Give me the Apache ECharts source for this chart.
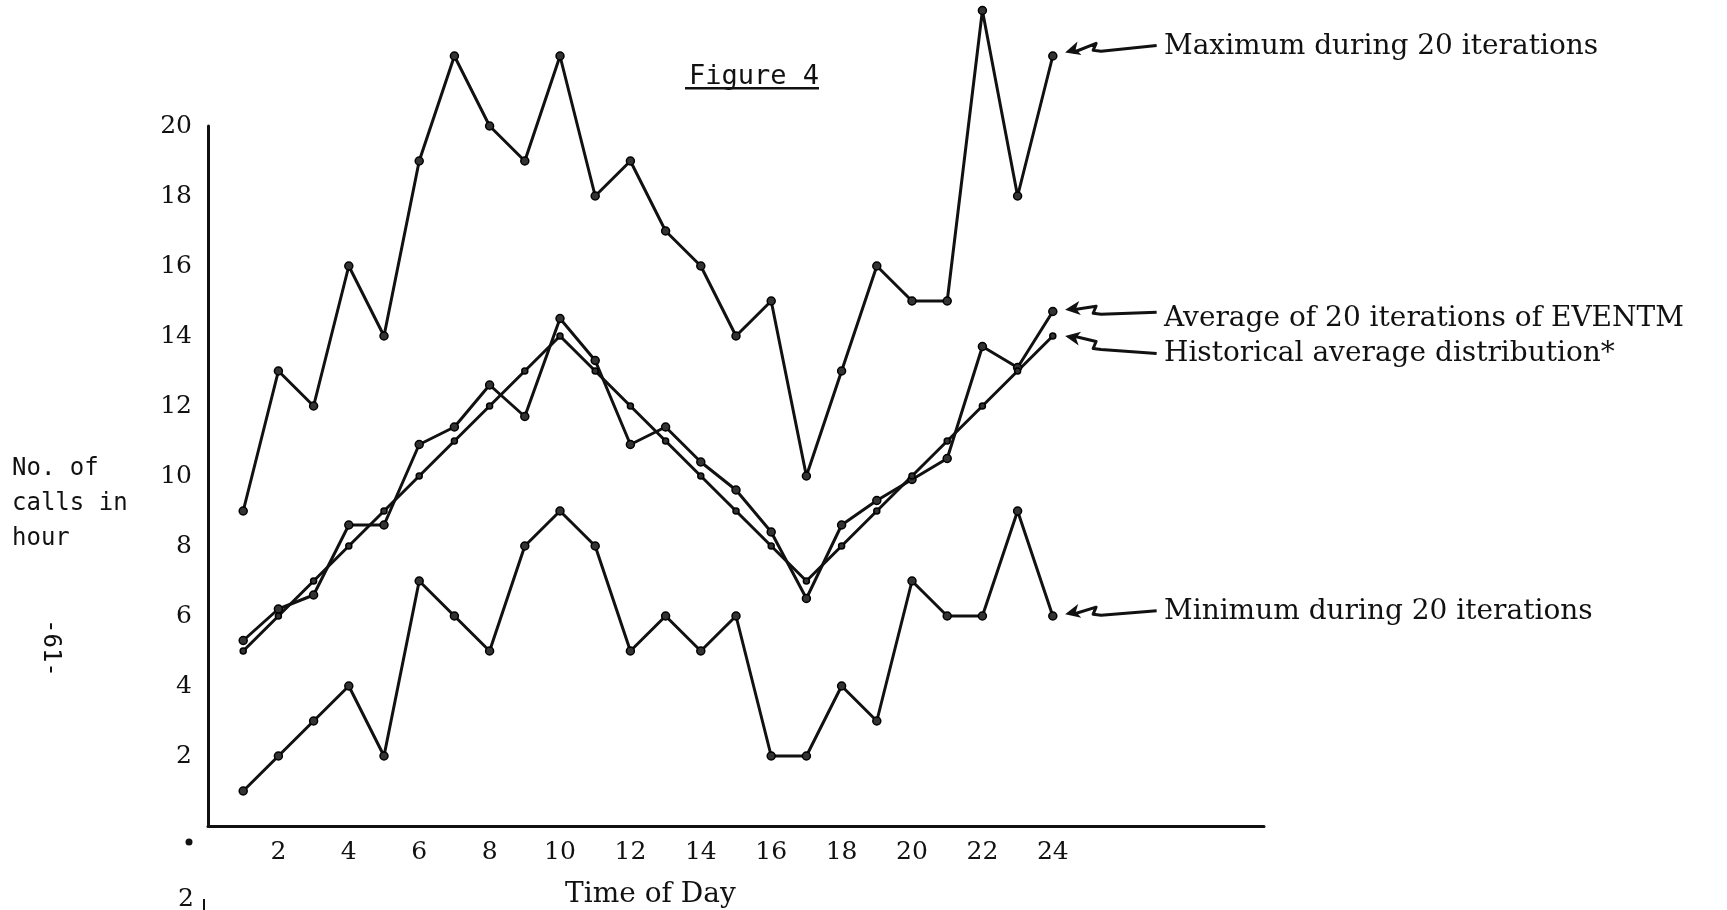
<!DOCTYPE html>
<html>
<head>
<meta charset="utf-8">
<script src="https://cdn.jsdelivr.net/npm/echarts@6/dist/echarts.min.js"></script>
<style>
html,body{margin:0;padding:0;background:#ffffff;}
#c{width:1727px;height:910px;}
</style>
</head>
<body>
<div id="c"></div>
<script>
// ---- data ----
const hours = [1,2,3,4,5,6,7,8,9,10,11,12,13,14,15,16,17,18,19,20,21,22,23,24];
const maxCalls  = [9,13,12,16,14,19,22,20,19,22,18,19,17,16,14,15,10,13,16,15,15,23.3,18,22];
const avgCalls  = [5.3,6.2,6.6,8.6,8.6,10.9,11.4,12.6,11.7,14.5,13.3,10.9,11.4,10.4,9.6,8.4,6.5,8.6,9.3,9.9,10.5,13.7,13.1,14.7];
const histCalls = [5,6,7,8,9,10,11,12,13,14,13,12,11,10,9,8,7,8,9,10,11,12,13,14];
const minCalls  = [1,2,3,4,2,7,6,5,8,9,8,5,6,5,6,2,2,4,3,7,6,6,9,6];
const xTickLabels = ['2','4','6','8','10','12','14','16','18','20','22','24'];
const yTickLabels = ['2','4','6','8','10','12','14','16','18','20'];
const seriesNames = ['Maximum during 20 iterations','Average of 20 iterations of EVENTM','Historical average distribution*','Minimum during 20 iterations'];
const titleText = 'Figure 4';
const xName = 'Time of Day';
const yNameLines = ['No. of','calls in','hour'];

// annotation arrows (data units): from the label side to the last point of each line
const arrows = [
  [[26.95,22.3],[24.35,22.1]],
  [[26.95,14.68],[24.35,14.75]],
  [[26.95,13.5],[24.35,14.0]],
  [[26.95,6.15],[24.35,6.05]]
];

const serif = 'DejaVu Serif';
const mono = 'DejaVu Sans Mono';
const ink = '#111';

function pairs(vals){ return hours.map((h,i)=>[h, vals[i]]); }

function lineSeries(name, vals, symSize){
  return {
    name: name,
    type: 'line',
    data: pairs(vals),
    clip: false,
    symbol: 'circle',
    symbolSize: symSize,
    itemStyle: {color: '#333', borderColor: '#000', borderWidth: 1.5},
    lineStyle: {color: ink, width: 3},
    emphasis: {disabled: true},
    silent: true
  };
}

const chart = echarts.init(document.getElementById('c'), null, {renderer: 'canvas'});
chart.setOption({
  backgroundColor: '#ffffff',
  animation: false,
  grid: {left: 208, right: 463, top: 126, bottom: 84, containLabel: false},
  xAxis: {
    type: 'value', min: 0, max: 30, interval: 2,
    axisLine: {show: true, onZero: false, lineStyle: {color: ink, width: 3}},
    axisTick: {show: false},
    splitLine: {show: false},
    axisLabel: {
      margin: 14, fontFamily: serif, fontSize: 25, color: ink,
      formatter: v => xTickLabels.includes(String(v)) ? String(v) : ''
    }
  },
  yAxis: {
    type: 'value', min: 0, max: 20, interval: 2,
    axisLine: {show: true, lineStyle: {color: ink, width: 3}},
    axisTick: {show: false},
    splitLine: {show: false},
    axisLabel: {
      margin: 16, fontFamily: serif, fontSize: 25, color: ink,
      formatter: v => yTickLabels.includes(String(v)) ? String(v) : ''
    }
  },
  series: [
    lineSeries(seriesNames[0], maxCalls, 8),
    lineSeries(seriesNames[1], avgCalls, 8),
    lineSeries(seriesNames[2], histCalls, 6),
    lineSeries(seriesNames[3], minCalls, 8)
  ]
});

// arrows converted through the grid's own scales
const arrowGraphics = [];
arrows.forEach(a => {
  const p0 = chart.convertToPixel({gridIndex: 0}, a[0]);
  const p1 = chart.convertToPixel({gridIndex: 0}, a[1]);
  const mx = p1[0] + 28;
  const my = p1[1] + (p0[1] - p1[1]) * 0.6;
  arrowGraphics.push({type: 'polyline', shape: {points: [p0, [mx + 8, my + 3], [mx, my + 2], [mx + 3, my - 5], [p1[0] + 8, p1[1]]]},
    style: {stroke: ink, lineWidth: 3, fill: null, lineJoin: 'round'}});
  const ang = Math.atan2(p1[1] - (my - 5), p1[0] - (mx + 3));
  const L = 15, W = 7;
  const bx = p1[0] - L * Math.cos(ang), by = p1[1] - L * Math.sin(ang);
  arrowGraphics.push({type: 'polygon', shape: {points: [
    p1,
    [bx - W * Math.sin(ang), by + W * Math.cos(ang)],
    [bx + 4 * Math.cos(ang), by + 4 * Math.sin(ang)],
    [bx + W * Math.sin(ang), by - W * Math.cos(ang)]
  ]}, style: {fill: ink}});
});

const textFont = '28px "' + serif + '"';
chart.setOption({
  graphic: arrowGraphics.concat([
    {type: 'text', left: 689, top: 63, style: {text: titleText, font: '27px "' + mono + '"', fill: ink}},
    {type: 'rect', shape: {x: 685, y: 87, width: 134, height: 2.5}, style: {fill: ink}},
    {type: 'text', left: 1164, top: 33, style: {text: seriesNames[0], font: textFont, fill: ink}},
    {type: 'text', left: 1164, top: 305, style: {text: seriesNames[1], font: textFont, fill: ink}},
    {type: 'text', left: 1164, top: 340, style: {text: seriesNames[2], font: textFont, fill: ink}},
    {type: 'text', left: 1164, top: 598, style: {text: seriesNames[3], font: textFont, fill: ink}},
    {type: 'text', left: 565, top: 881, style: {text: xName, font: textFont, fill: ink}},
    {type: 'text', left: 12, top: 451, style: {text: yNameLines.join('\n'), font: '24px "' + mono + '"', lineHeight: 35, fill: ink}},
    {type: 'text', x: 62, y: 619, rotation: -Math.PI/2, style: {text: '-61-', font: '24px "' + mono + '"', fill: ink}},
    {type: 'circle', shape: {cx: 189, cy: 842, r: 3.5}, style: {fill: ink}},
    {type: 'text', left: 178, top: 887, style: {text: '2', font: '25px "' + serif + '"', fill: ink}},
    {type: 'rect', shape: {x: 203, y: 899, width: 2, height: 11}, style: {fill: ink}}
  ])
});
</script>
</body>
</html>
